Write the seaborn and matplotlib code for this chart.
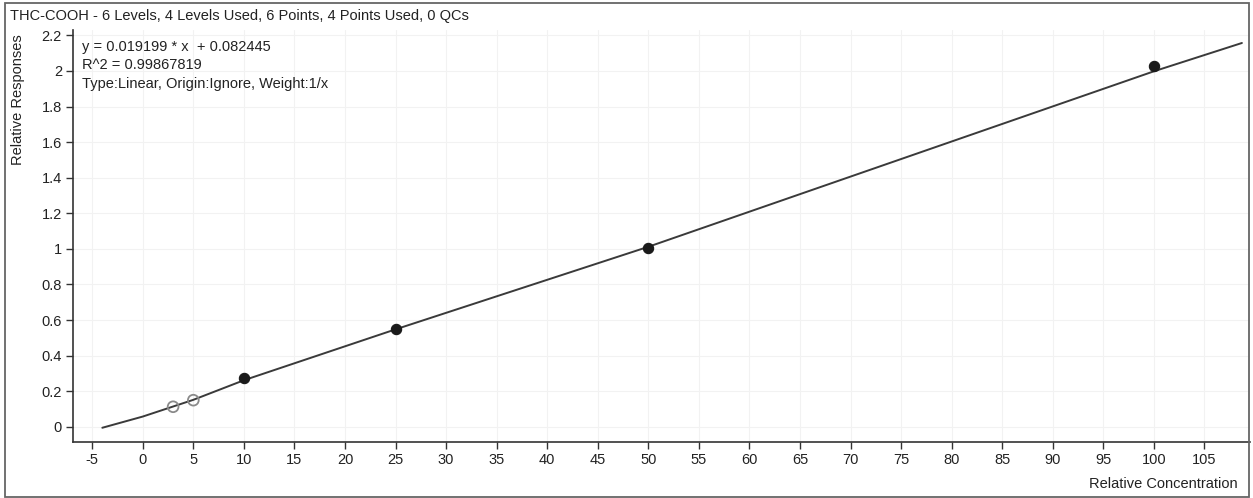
import matplotlib
matplotlib.use("Agg")
import matplotlib.pyplot as plt
from matplotlib.patches import Rectangle
import seaborn as sns
import pandas as pd

# data
used_x = [10, 25, 50, 100]
used_y = [0.276, 0.548, 1.004, 2.028]
excluded_x = [3, 5]
excluded_y = [0.113, 0.150]
fit_x = [-4.0, 0.0, 5.0, 10.0, 25.0, 50.0, 100.0, 108.7]
fit_y = [-0.005, 0.058, 0.152, 0.262, 0.548, 1.012, 1.998, 2.157]
x_ticks = [-5, 0, 5, 10, 15, 20, 25, 30, 35, 40, 45, 50, 55, 60, 65, 70, 75, 80, 85, 90, 95, 100, 105]
y_ticks = [0, 0.2, 0.4, 0.6, 0.8, 1.0, 1.2, 1.4, 1.6, 1.8, 2.0, 2.2]
y_tick_labels = ["0", "0.2", "0.4", "0.6", "0.8", "1", "1.2", "1.4", "1.6", "1.8", "2", "2.2"]
title = "THC-COOH - 6 Levels, 4 Levels Used, 6 Points, 4 Points Used, 0 QCs"
info = ["y = 0.019199 * x  + 0.082445", "R^2 = 0.99867819", "Type:Linear, Origin:Ignore, Weight:1/x"]

sns.set_theme(style="white")
plt.rcParams["font.family"] = ["Liberation Sans", "DejaVu Sans"]

fig = plt.figure(figsize=(12.53, 4.98), dpi=100)
ax = fig.add_axes([73 / 1253, 1 - 442 / 498, (1250 - 73) / 1253, (442 - 30) / 498])

df_fit = pd.DataFrame({"x": fit_x, "y": fit_y})
df_used = pd.DataFrame({"x": used_x, "y": used_y})

sns.lineplot(data=df_fit, x="x", y="y", ax=ax, color="#3a3a3a", linewidth=1.4)
sns.scatterplot(data=df_used, x="x", y="y", ax=ax, color="#1a1a1a", s=55,
                edgecolor="#1a1a1a", linewidth=0.8, zorder=5)
ax.scatter(excluded_x, excluded_y, s=60, facecolors="none", edgecolors="#8a8a8a",
           linewidths=1.3, zorder=5)

ax.set_xlim(-6.9, 109.5)
ax.set_ylim(-0.085, 2.23)
ax.set_xticks(x_ticks)
ax.set_xticklabels([str(t) for t in x_ticks])
ax.set_yticks(y_ticks)
ax.set_yticklabels(y_tick_labels)
ax.set_xlabel("")
ax.set_ylabel("")

for s in ["top", "right"]:
    ax.spines[s].set_visible(False)
for s in ["left", "bottom"]:
    ax.spines[s].set_color("#333333")
    ax.spines[s].set_linewidth(1.2)

ax.tick_params(axis="both", which="major", direction="out", length=5, width=1,
               color="#333333", labelsize=10.5, labelcolor="#222222", pad=3,
               left=True, bottom=True)
ax.grid(True, color="#f2f2f2", linewidth=0.8)
ax.set_axisbelow(True)

for i, line in enumerate(info):
    ax.text(0.008, 0.975 - i * 0.044, line, transform=ax.transAxes, fontsize=10.5,
            color="#222222", va="top", ha="left")

fig.text(10 / 1253, 1 - 16 / 498, title, fontsize=10.5, color="#222222", va="center", ha="left")
fig.text(18 / 1253, 1 - 100 / 498, "Relative Responses", rotation=90, fontsize=10.5,
         color="#222222", va="center", ha="center")
fig.text(1238 / 1253, 1 - 484 / 498, "Relative Concentration", fontsize=10.5,
         color="#222222", va="center", ha="right")

fig.patches.append(Rectangle((5 / 1253, 1 / 498), 1244 / 1253, 494 / 498,
                             transform=fig.transFigure, fill=False,
                             edgecolor="#666666", linewidth=1.3))

fig.savefig("out.png", dpi=100)
